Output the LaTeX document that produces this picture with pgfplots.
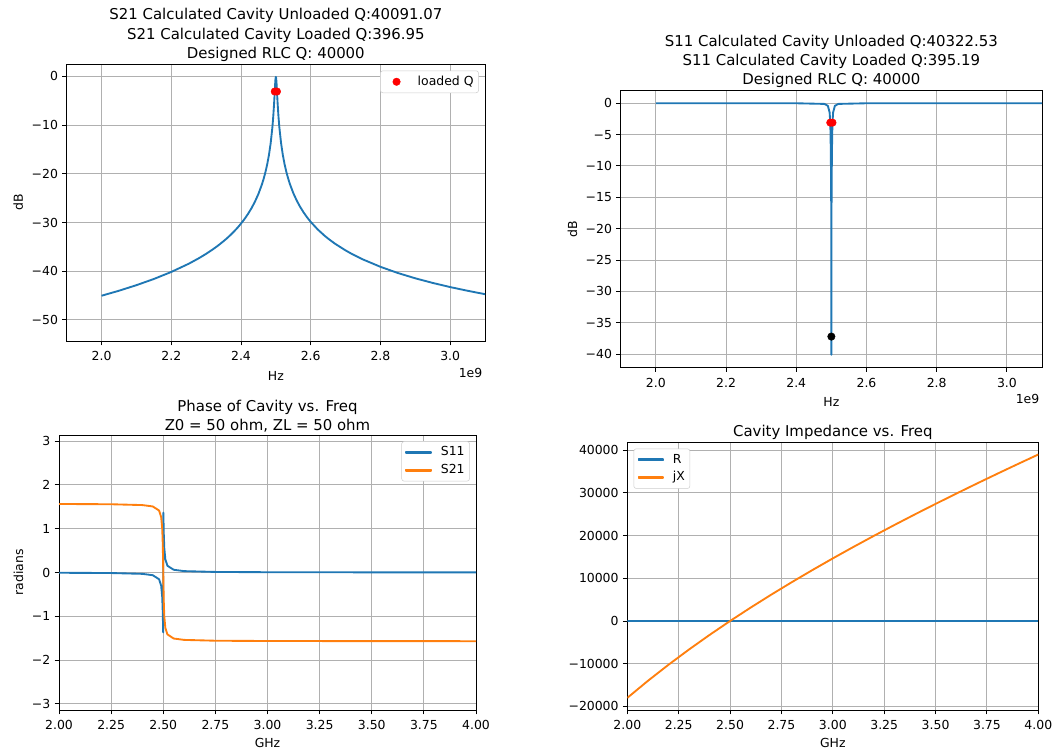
\documentclass[border=0pt]{standalone}
\usepackage{fontspec}
\setmainfont{DejaVu Sans}
\usepackage{pgfplots}
\pgfplotsset{compat=1.18}
\definecolor{mplblue}{HTML}{1F77B4}
\definecolor{mplorange}{HTML}{FF7F0E}
\definecolor{gridgray}{HTML}{B0B0B0}
\definecolor{legendedge}{HTML}{CCCCCC}
\pgfplotsset{
 mpl/.style={
  scale only axis,
  anchor=south west,
  clip mode=individual,
  tick label style={font=\fontsize{10}{12}\selectfont},
  xticklabel style={yshift=-1.5pt},
  label style={font=\fontsize{10}{12}\selectfont},
  title style={font=\fontsize{12}{15.3}\selectfont, align=center, yshift=-7pt},
  axis line style={line width=0.8pt, black},
  grid=major,
  major grid style={color=gridgray, line width=0.8pt},
  tick pos=left,
  tick align=outside,
  major tick length=3.5pt,
  every tick/.append style={black, line width=0.8pt},
  minor tick num=0,
  scaled ticks=false,
  every axis plot/.append style={line join=round},
  legend style={draw=legendedge, rounded corners=2pt, fill=white, font=\fontsize{10}{12}\selectfont, inner sep=3pt, column sep=6pt, row sep=2.5pt, nodes={inner sep=1pt, text height=7.5pt, text depth=2.2pt}, cells={anchor=west}},
  legend cell align=left,
 },
 bluekey/.style={legend image code/.code={\fill[mplblue, rounded corners=0pt] (0pt,-0.55pt) rectangle (20pt,0.55pt);}},
 orangekey/.style={legend image code/.code={\fill[mplorange, rounded corners=0pt] (0pt,-0.55pt) rectangle (20pt,0.55pt);}},
}
\begin{document}
\begin{tikzpicture}
\useasboundingbox (0,0) rectangle (848.2pt,-602.2pt);
% ---------------- top left: S21 dB
\begin{axis}[mpl, at={(53.63pt,-274.16pt)}, width=336.31pt, height=222.47pt,
  xmin=1.9, xmax=3.1, ymin=-54.34, ymax=2.5,
  xtick={2.0,2.2,2.4,2.6,2.8,3.0}, xticklabels={2.0,2.2,2.4,2.6,2.8,3.0},
  ytick={-50,-40,-30,-20,-10,0}, yticklabels={−50,−40,−30,−20,−10,0},
  xlabel={Hz}, ylabel={dB}, xlabel style={yshift=-1.5pt},
  legend style={at={(1,1)}, anchor=north east, xshift=-5pt, yshift=-5pt},
  title={S21 Calculated Cavity Unloaded Q:40091.07\\S21 Calculated Cavity Loaded Q:396.95\\Designed RLC Q: 40000}]
\addplot[mplblue, line width=1.5pt, forget plot] coordinates {
(2.0,-45.04) (2.05,-44.01) (2.1,-42.87) (2.15,-41.60) (2.2,-40.15) (2.25,-38.47)
(2.28,-37.30) (2.3,-36.43) (2.32,-35.47) (2.33,-34.96) (2.34,-34.41) (2.35,-33.83)
(2.36,-33.22) (2.37,-32.55) (2.38,-31.84) (2.39,-31.07) (2.4,-30.22) (2.41,-29.29)
(2.42,-28.25) (2.43,-27.07) (2.44,-25.72) (2.45,-24.12) (2.46,-22.18) (2.465,-21.01)
(2.47,-19.68) (2.475,-18.11) (2.48,-16.20) (2.485,-13.77) (2.49,-10.47) (2.4925,-8.26)
(2.495,-5.47) (2.4965,-3.50) (2.4975,-2.12) (2.498,-1.47) (2.499,-0.42) (2.5,-0.086)
(2.501,-0.42) (2.502,-1.47) (2.5025,-2.12) (2.5035,-3.49) (2.505,-5.46) (2.5075,-8.23)
(2.51,-10.43) (2.515,-13.72) (2.52,-16.13) (2.525,-18.02) (2.53,-19.58) (2.535,-20.89)
(2.54,-22.04) (2.55,-23.95) (2.56,-25.51) (2.57,-26.83) (2.58,-27.97) (2.59,-28.98)
(2.6,-29.87) (2.62,-31.42) (2.64,-32.73) (2.65,-33.31) (2.67,-34.37) (2.7,-35.73)
(2.72,-36.53) (2.75,-37.59) (2.8,-39.10) (2.85,-40.37) (2.9,-41.46) (2.95,-42.41)
(3.0,-43.26) (3.05,-44.02) (3.1,-44.72) (3.15,-45.35)
};
\addplot[only marks, mark=*, mark size=3pt, color=red, mark options={fill=red, draw=red},
  legend image code/.code={\path[draw=none, fill=none] (0pt,-1pt) rectangle (20pt,1pt); \fill[red] (10pt,0pt) circle (3pt);}] coordinates {(2.49685,-3.09) (2.50315,-3.09)};
\addlegendentry{loaded Q}
\node[anchor=north east, inner sep=0pt, font=\fontsize{10}{12}\selectfont] at (rel axis cs:1,0) [xshift=-2pt, yshift=-21.7pt] {1e9};
\end{axis}
% ---------------- top right: S11 dB
\begin{axis}[mpl, at={(499.04pt,-295.31pt)}, width=338.73pt, height=222.39pt,
  xmin=1.9, xmax=3.1, ymin=-42.1, ymax=2.0,
  xtick={2.0,2.2,2.4,2.6,2.8,3.0}, xticklabels={2.0,2.2,2.4,2.6,2.8,3.0},
  ytick={-40,-35,-30,-25,-20,-15,-10,-5,0}, yticklabels={−40,−35,−30,−25,−20,−15,−10,−5,0},
  xlabel={Hz}, ylabel={dB}, xlabel style={yshift=-1.5pt},
  title={S11 Calculated Cavity Unloaded Q:40322.53\\S11 Calculated Cavity Loaded Q:395.19\\Designed RLC Q: 40000}]
\addplot[mplblue, line width=1.5pt] coordinates {
(2.0,0) (2.4,-0.004) (2.48,-0.106) (2.49,-0.41) (2.495,-1.45) (2.497,-3.23) (2.4985,-8.0)
(2.4995,-16.09) (2.5,-40.09) (2.5005,-16.09) (2.5015,-8.0) (2.503,-3.23) (2.505,-1.45)
(2.51,-0.41) (2.52,-0.106) (2.6,-0.004) (3.1,0) (4.0,0)
};
\addplot[only marks, mark=*, mark size=3pt, color=red, mark options={fill=red, draw=red}] coordinates {(2.49685,-3.09) (2.50315,-3.09)};
\addplot[only marks, mark=*, mark size=3pt, color=black, mark options={fill=black, draw=black}] coordinates {(2.5,-37.2)};
\node[anchor=north east, inner sep=0pt, font=\fontsize{10}{12}\selectfont] at (rel axis cs:1,0) [xshift=-2pt, yshift=-21.7pt] {1e9};
\end{axis}
% ---------------- bottom left: phase
\begin{axis}[mpl, at={(47.44pt,-570.84pt)}, width=335.27pt, height=221.1pt,
  xmin=2.0, xmax=4.0, ymin=-3.14, ymax=3.14,
  xtick={2.0,2.25,2.5,2.75,3.0,3.25,3.5,3.75,4.0}, xticklabels={2.00,2.25,2.50,2.75,3.00,3.25,3.50,3.75,4.00},
  ytick={-3,-2,-1,0,1,2,3}, yticklabels={−3,−2,−1,0,1,2,3},
  xlabel={GHz}, ylabel={radians}, xlabel style={yshift=0.5pt},
  legend style={at={(1,1)}, anchor=north east, xshift=-5pt, yshift=-5pt},
  title={Phase of Cavity vs. Freq\\Z0 = 50 ohm, ZL = 50 ohm}]
\addplot[mplblue, line width=1.5pt, bluekey] coordinates {
(2.0,-0.0056) (2.25,-0.0118) (2.4,-0.0306) (2.45,-0.0618) (2.48,-0.1543) (2.49,-0.3028)
(2.495,-0.5564) (2.4975,-0.8879) (2.499,-1.2325) (2.4995,-1.3513) (2.49975,-1.3674)
(2.50025,1.3674) (2.5005,1.3513) (2.501,1.2325) (2.5025,0.8879) (2.505,0.5564)
(2.51,0.3028) (2.52,0.1543) (2.55,0.0630) (2.6,0.0319) (2.75,0.0131) (3.0,0.0068)
(3.5,0.0041) (4.0,0.0026)
};
\addlegendentry{S11}
\addplot[mplorange, line width=1.5pt, orangekey] coordinates {
(2.0,1.5652) (2.25,1.5588) (2.4,1.5399) (2.45,1.5084) (2.48,1.4149) (2.49,1.2648)
(2.495,1.0081) (2.4975,0.6704) (2.499,0.3070) (2.5,0) (2.501,-0.3070) (2.5025,-0.6704)
(2.505,-1.0081) (2.51,-1.2648) (2.52,-1.4136) (2.55,-1.5071) (2.6,-1.5386) (2.75,-1.5576)
(3.0,-1.5639) (3.5,-1.5666) (4.0,-1.5682)
};
\addlegendentry{S21}
\end{axis}
% ---------------- bottom right: impedance
\begin{axis}[mpl, at={(504.35pt,-570.84pt)}, width=330.44pt, height=215.23pt,
  xmin=2.0, xmax=4.0, ymin=-20850, ymax=41850,
  xtick={2.0,2.25,2.5,2.75,3.0,3.25,3.5,3.75,4.0}, xticklabels={2.00,2.25,2.50,2.75,3.00,3.25,3.50,3.75,4.00},
  ytick={-20000,-10000,0,10000,20000,30000,40000}, yticklabels={−20000,−10000,0,10000,20000,30000,40000},
  xlabel={GHz}, xlabel style={yshift=0.5pt},
  legend style={at={(0,1)}, anchor=north west, xshift=5pt, yshift=-5pt},
  title={Cavity Impedance vs. Freq}]
\addplot[mplblue, line width=1.5pt, bluekey] coordinates {(2.0,1) (4.0,1)};
\addlegendentry{R}
\addplot[mplorange, line width=1.5pt, orangekey] coordinates {
(2.0,-18000) (2.1,-14019) (2.2,-10255) (2.3,-6678) (2.4,-3267) (2.5,0) (2.6,3138)
(2.7,6163) (2.8,9086) (2.9,11917) (3.0,14667) (3.1,17342) (3.2,19950) (3.3,22497)
(3.4,24988) (3.5,27429) (3.6,29822) (3.7,32173) (3.8,34484) (3.9,36759) (4.0,39000)
};
\addlegendentry{jX}
\end{axis}
\end{tikzpicture}
\end{document}
